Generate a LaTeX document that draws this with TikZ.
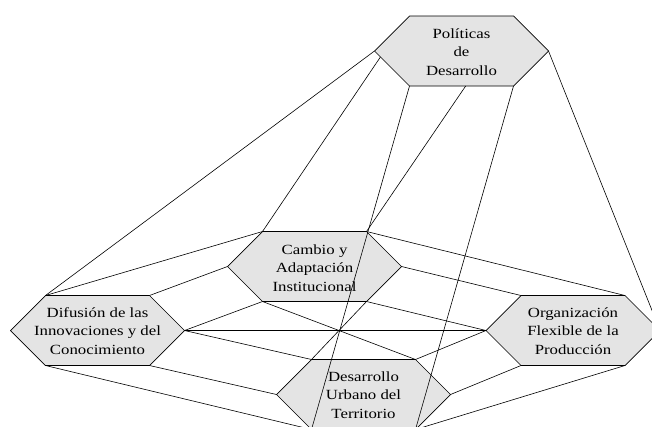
\documentclass[tikz,border=0pt]{standalone}
\usepackage{fontspec}
\newfontfamily\hexfont{Liberation Serif}[FakeStretch=1.2]
\usetikzlibrary{calc}
\definecolor{hexgray}{RGB}{228,228,228}
\tikzset{
  hexbox/.style={draw=black, line width=0.7pt, fill=hexgray},
  link/.style={draw=black, line width=0.6pt},
  hextext/.style={font=\hexfont\fontsize{14}{18.5}\selectfont, align=center, inner sep=0pt},
  hexa/.pic={
    \path[hexbox] (-87,0) coordinate (-l) -- (-52,-35) coordinate (-tl)
      -- (52,-35) coordinate (-tr) -- (87,0) coordinate (-r)
      -- (52,35) coordinate (-br) -- (-52,35) coordinate (-bl) -- cycle;
  }
}
\begin{document}
\begin{tikzpicture}[x=1pt, y=-1pt]
\clip (0,0) rectangle (652,426);
\fill[white] (0,0) rectangle (652,426);
% hexagons
\pic (P) at (461.5,51) {hexa};
\pic (C) at (314.5,266.5) {hexa};
\pic (D) at (97.5,330.5) {hexa};
\pic (O) at (573,330.5) {hexa};
\pic (U) at (363.5,394.5) {hexa};
% texts
\node[hextext] (Pt) at (461.5,52) {Políticas\\de\\Desarrollo};
\node[hextext] (Ct) at (314.5,268) {Cambio y\\Adaptación\\Institucional};
\node[hextext] (Dt) at (97.5,331) {Difusión de las\\Innovaciones y del\\Conocimiento};
\node[hextext] (Ot) at (573,331) {Organización\\Flexible de la\\Producción};
\node[hextext] (Ut) at (363.5,395) {Desarrollo\\Urbano del\\Territorio};
% connectors
\coordinate (P-a) at ($(P-l)!0.17!(P-bl)$);
\coordinate (P-m) at ($(P-bl)!0.54!(P-br)$);
\draw[link] (P-l) -- (D-tl);
\draw[link] (P-a) -- (C-tl);
\draw[link] (P-bl) -- (U-bl);
\draw[link] (P-m) -- (C-tr);
\draw[link] (P-br) -- (U-br);
\draw[link] (P-r) -- (O-r);
\draw[link] (C-tl) -- (D-tl);
\draw[link] (C-l) -- (D-tr);
\draw[link] (C-bl) -- (D-r);
\draw[link] (C-tr) -- (O-tr);
\draw[link] (C-r) -- (O-tl);
\draw[link] (C-br) -- (O-l);
\draw[link] (C-bl) -- (U-tr);
\draw[link] (C-br) -- (U-tl);
\draw[link] (D-r) -- (O-l);
\draw[link] (D-r) -- (U-tl);
\draw[link] (O-l) -- (U-tr);
\draw[link] (D-br) -- (U-l);
\draw[link] (O-bl) -- (U-r);
\draw[link] (D-bl) -- (U-bl);
\draw[link] (O-br) -- (U-br);
\end{tikzpicture}
\end{document}
